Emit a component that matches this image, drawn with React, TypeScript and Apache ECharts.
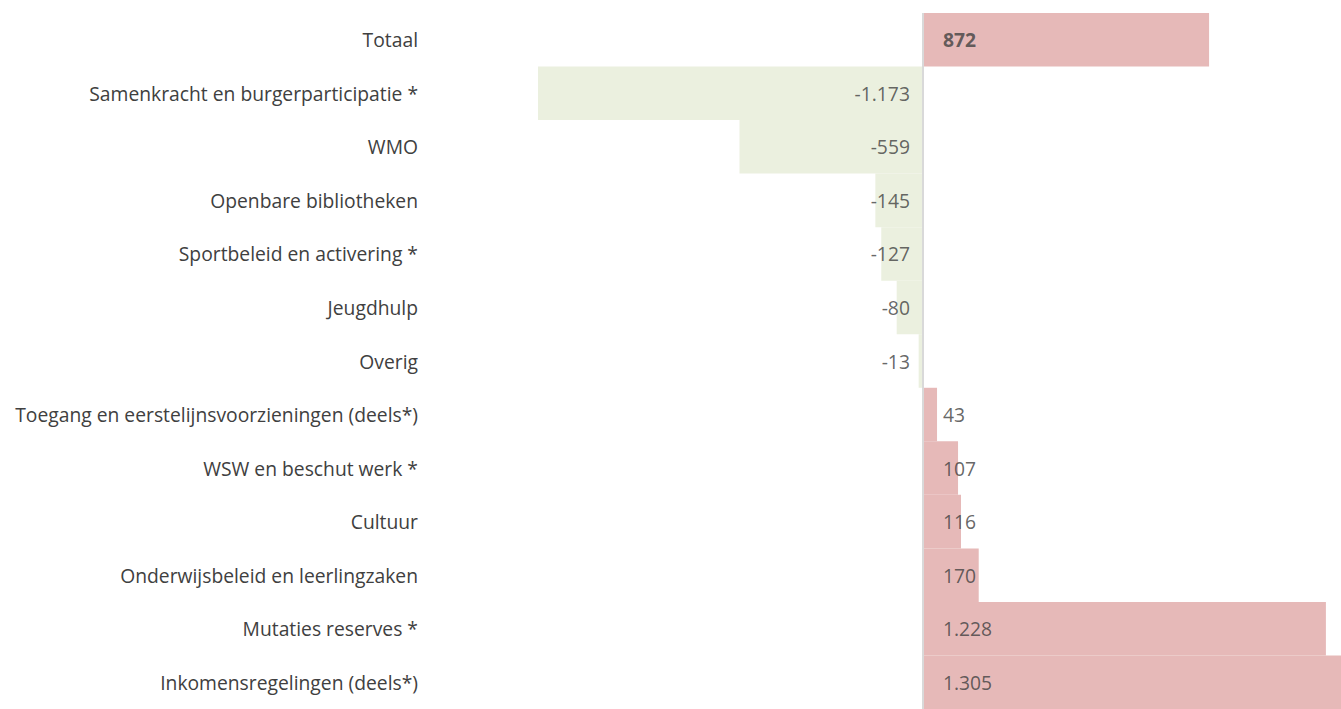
import React, { useEffect, useRef } from "react";
import * as echarts from "echarts";

const categories = [
  "Totaal",
  "Samenkracht en burgerparticipatie *",
  "WMO",
  "Openbare bibliotheken",
  "Sportbeleid en activering *",
  "Jeugdhulp",
  "Overig",
  "Toegang en eerstelijnsvoorzieningen (deels*)",
  "WSW en beschut werk *",
  "Cultuur",
  "Onderwijsbeleid en leerlingzaken",
  "Mutaties reserves *",
  "Inkomensregelingen (deels*)",
];
const values = [872, -1173, -559, -145, -127, -80, -13, 43, 107, 116, 170, 1228, 1305];

const POS = "#E6B9B8";
const NEG = "#EBF0DF";
const TEXT = "#404040";
const FONT = "Open Sans";
const FS = 19.3;

function fmt(v: number): string {
  const s = Math.abs(v).toString().replace(/\B(?=(\d{3})+(?!\d))/g, ".");
  return (v < 0 ? "-" : "") + s;
}

export default function App() {
  const ref = useRef<HTMLDivElement>(null);
  useEffect(() => {
    if (!ref.current) return;
    const chart = echarts.init(ref.current, undefined, { renderer: "svg" });
    chart.setOption({
      animation: false,
      backgroundColor: "#ffffff",
      grid: { left: 538, right: 0, top: 13, bottom: -6, containLabel: false },
      xAxis: {
        type: "value",
        min: -1173,
        max: 1274,
        show: false,
      },
      yAxis: {
        type: "category",
        data: categories,
        inverse: true,
        axisLine: { show: false },
        axisTick: { show: false },
        splitLine: { show: false },
        axisLabel: {
          margin: 120,
          color: TEXT,
          fontFamily: FONT,
          fontSize: FS,
        },
      },
      series: [
        {
          type: "bar",
          barCategoryGap: "0%",
          clip: true,
          data: values.map((v) => ({
            value: v,
            itemStyle: { color: v < 0 ? NEG : POS },
          })),
          label: { show: false },
          markLine: {
            silent: true,
            symbol: "none",
            label: { show: false },
            lineStyle: { color: "#D9D9D9", width: 2, type: "solid" },
            data: [{ xAxis: 0 }],
            z: 5,
          },
        },
        {
          type: "scatter",
          symbolSize: 0,
          silent: true,
          z: 10,
          data: values.map((v, i) => ({
            value: [0, categories[i]],
            label: {
              show: true,
              position: v < 0 ? "left" : "right",
              distance: v < 0 ? 13 : 20,
              formatter: fmt(v),
              color: TEXT,
              fontFamily: FONT,
              fontSize: FS,
              fontWeight: i === 0 ? "bold" : "normal",
            },
          })),
        },
      ],
    });
    return () => chart.dispose();
  }, []);
  return (
    <div
      ref={ref}
      style={{ position: "absolute", left: 0, top: 0, width: 1341, height: 709 }}
    />
  );
}
